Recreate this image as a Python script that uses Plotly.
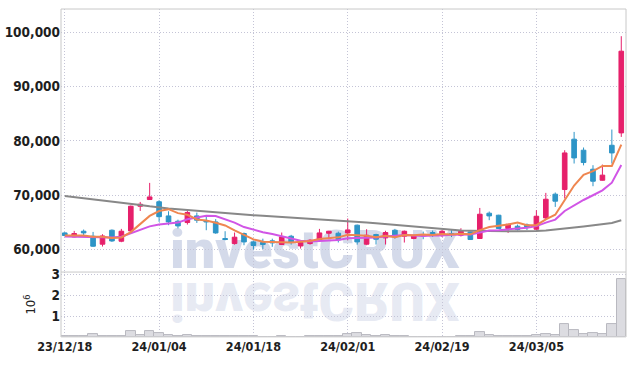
import plotly.graph_objects as go

dates = [
    "23/12/18", "23/12/19", "23/12/20", "23/12/21", "23/12/22", "23/12/26", "23/12/27", "23/12/28",
    "24/01/02", "24/01/03", "24/01/04", "24/01/05", "24/01/08", "24/01/09", "24/01/10", "24/01/11",
    "24/01/12", "24/01/15", "24/01/16", "24/01/17", "24/01/18", "24/01/19", "24/01/22", "24/01/23",
    "24/01/24", "24/01/25", "24/01/26", "24/01/29", "24/01/30", "24/01/31", "24/02/01", "24/02/02",
    "24/02/05", "24/02/06", "24/02/07", "24/02/08", "24/02/13", "24/02/14", "24/02/15", "24/02/16",
    "24/02/19", "24/02/20", "24/02/21", "24/02/22", "24/02/23", "24/02/26", "24/02/27", "24/02/28",
    "24/02/29", "24/03/04", "24/03/05", "24/03/06", "24/03/07", "24/03/08", "24/03/11", "24/03/12",
    "24/03/13", "24/03/14", "24/03/15", "24/03/18",
]

opens = [63060, 62320, 63370, 62450, 60980, 63555, 61530, 63430, 67975, 69210,
         68800, 66190, 65210, 64970, 66190, 65340, 65080, 62030, 61100, 62950,
         61400, 61290, 61600, 60920, 62450, 60660, 61100, 61840, 63000, 63000,
         63060, 64480, 60980, 62760, 62140, 63555, 62450, 62030, 62760, 63130,
         62760, 62950, 62630, 63240, 62030, 66690, 66320, 63870, 64290, 64540,
         63740, 65820, 70190, 71050, 80320, 78290, 74790, 72760, 79200, 81480]
highs = [63200, 63430, 63680, 63240, 62820, 63700, 63800, 68100, 68770, 72270,
         69080, 67050, 65500, 67360, 66800, 66320, 65600, 63370, 63130, 63130,
         61600, 62000, 62000, 63130, 62700, 61400, 61900, 63800, 63450, 63300,
         65710, 64600, 63740, 62900, 63450, 63800, 63500, 62700, 63300, 63500,
         63600, 63700, 63920, 63300, 67660, 67000, 66400, 64700, 64600, 64800,
         67240, 70430, 70500, 78290, 81660, 78790, 75530, 75650, 82100, 99290]
lows = [62450, 62250, 62600, 60480, 60550, 61400, 61350, 63300, 67100, 69150,
        65100, 64480, 63900, 64600, 64900, 63555, 62900, 61700, 60900, 60790,
        60000, 60100, 60500, 60830, 60900, 60180, 60900, 61700, 61900, 61300,
        61710, 60900, 60800, 60920, 60920, 62000, 61290, 61900, 61900, 62300,
        62300, 62300, 62400, 61840, 62000, 65400, 63870, 63060, 63500, 63600,
        63500, 65600, 67850, 69400, 75840, 75500, 71660, 72700, 75840, 80740]
closes = [62580, 62950, 63060, 60610, 62500, 61580, 63370, 67975, 68340, 69690,
          66050, 65080, 64350, 66815, 65400, 65080, 63060, 61840, 62270, 61400,
          60740, 60920, 61220, 62320, 61290, 61290, 61710, 63060, 63370, 61770,
          63610, 61400, 62630, 61900, 63130, 62320, 63370, 62500, 62500, 62630,
          63370, 62760, 63370, 61840, 66500, 66190, 63870, 64660, 63680, 64050,
          66130, 69265, 68900, 77790, 76870, 76020, 72580, 73700, 77790, 96530]
volumes = [40000, 30000, 25000, 130000, 60000, 40000, 60000, 270000, 90000, 270000,
           180000, 70000, 40000, 100000, 40000, 30000, 60000, 60000, 40000, 30000,
           30000, 20000, 20000, 30000, 20000, 20000, 30000, 40000, 30000, 40000,
           130000, 180000, 100000, 40000, 80000, 30000, 60000, 20000, 20000, 20000,
           20000, 20000, 30000, 50000, 260000, 80000, 40000, 30000, 30000, 40000,
           80000, 160000, 110000, 600000, 350000, 130000, 210000, 130000, 600000, 2810000]

ma5 = [62600, 62550, 62600, 62350, 62340, 62140, 62224, 63207, 64753, 66191,
       67085, 67427, 66702, 66397, 65539, 65345, 64941, 64439, 63530, 62730,
       61862, 61434, 61310, 61320, 61298, 61408, 61566, 61934, 62144, 62240,
       62704, 62642, 62556, 62262, 62534, 62276, 62670, 62644, 62764, 62664,
       62874, 62752, 62926, 62794, 63568, 64132, 64354, 64612, 64980, 64490,
       64478, 65557, 66405, 69227, 71791, 73769, 74432, 75392, 75392, 79324]
ma10 = [62400, 62380, 62350, 62250, 62250, 62200, 62350, 63000, 63700, 64266,
        64613, 64826, 64955, 65575, 65865, 66215, 66184, 65571, 64964, 64135,
        63614, 63198, 62875, 62425, 62014, 61635, 61500, 61622, 61732, 61769,
        62056, 62104, 62245, 62203, 62387, 62490, 62656, 62600, 62513, 62599,
        62575, 62711, 62785, 62779, 63116, 63503, 63553, 63769, 63887, 64029,
        64305, 64956, 65509, 67104, 68141, 69124, 69995, 70899, 72310, 75558]
ma60 = [69850, 69650, 69450, 69300, 69100, 68900, 68700, 68500, 68200, 67950,
        67700, 67550, 67400, 67250, 67100, 66950, 66800, 66700, 66600, 66450,
        66300, 66200, 66100, 66000, 65900, 65800, 65700, 65600, 65500, 65400,
        65300, 65150, 65000, 64850, 64700, 64550, 64400, 64250, 64050, 63900,
        63750, 63600, 63500, 63450, 63400, 63350, 63350, 63350, 63350, 63350,
        63400, 63500, 63650, 63850, 64050, 64250, 64450, 64650, 64900, 65400]

tick_labels = ["23/12/18", "24/01/04", "24/01/18", "24/02/01", "24/02/19", "24/03/05"]
price_ticks = [60000, 70000, 80000, 90000, 100000]
vol_ticks = [1000000, 2000000, 3000000]
vol_tick_text = ["1", "2", "3"]

PINK = "#E6206B"
BLUE = "#2E95C7"
GRID = "#c4c4d6"
GDASH = "1px,2px"
FONT = "DejaVu Sans Condensed, Roboto Condensed, Liberation Sans Narrow, Roboto, sans-serif"
TICKFONT = dict(family=FONT, size=13.5, color="#1e1e1e", weight="bold")
XTICKFONT = dict(family=FONT, size=12.5, color="#1e1e1e", weight="bold")

fig = go.Figure()
fig.add_trace(go.Candlestick(
    x=dates, open=opens, high=highs, low=lows, close=closes,
    xaxis="x", yaxis="y", showlegend=False, whiskerwidth=0,
    increasing=dict(line=dict(color=PINK, width=1), fillcolor=PINK),
    decreasing=dict(line=dict(color=BLUE, width=1), fillcolor=BLUE),
    hoverinfo="skip",
))
fig.add_trace(go.Scatter(x=dates, y=ma60, mode="lines", line=dict(color="#888888", width=2),
                         xaxis="x", yaxis="y", showlegend=False, hoverinfo="skip"))
fig.add_trace(go.Scatter(x=dates, y=ma10, mode="lines", line=dict(color="#D155E6", width=2),
                         xaxis="x", yaxis="y", showlegend=False, hoverinfo="skip"))
fig.add_trace(go.Scatter(x=dates, y=ma5, mode="lines", line=dict(color="#EF8650", width=2),
                         xaxis="x", yaxis="y", showlegend=False, hoverinfo="skip"))
fig.add_trace(go.Bar(x=dates, y=volumes, xaxis="x2", yaxis="y2", showlegend=False,
                     marker=dict(color="#dcdce1", line=dict(color="#b9b9c0", width=1)),
                     hoverinfo="skip"))

VOL_TOP = 0.198
axis_common = dict(type="category", categoryorder="array", categoryarray=dates,
                   range=[-0.4, 59.5], showgrid=True, gridcolor=GRID, griddash=GDASH,
                   gridwidth=1, tickvals=tick_labels, zeroline=False, showline=False,
                   ticks="")
fig.update_layout(
    width=634, height=366,
    margin=dict(l=61, r=8, t=9, b=29),
    paper_bgcolor="white", plot_bgcolor="white",
    bargap=0,
    xaxis=dict(axis_common, domain=[0, 1], anchor="y", showticklabels=False,
               rangeslider=dict(visible=False)),
    xaxis2=dict(axis_common, domain=[0, 1], anchor="y2", matches="x",
                ticktext=tick_labels, tickfont=XTICKFONT),
    yaxis=dict(domain=[VOL_TOP, 1], range=[55850, 104300], tickvals=price_ticks,
               tickformat=",", showgrid=True, gridcolor=GRID, griddash=GDASH,
               zeroline=False, ticks="", tickfont=TICKFONT, automargin=False),
    yaxis2=dict(domain=[0, VOL_TOP], range=[0, 3125000], tickvals=vol_ticks,
                ticktext=vol_tick_text, showgrid=True, gridcolor=GRID, griddash=GDASH,
                zeroline=False, ticks="", tickfont=TICKFONT, automargin=False,
                title=dict(text="10<sup>6</sup>", standoff=12,
                           font=dict(family=FONT, size=13, color="#222222"))),
    shapes=[
        dict(type="rect", xref="paper", yref="paper", x0=0, x1=1, y0=VOL_TOP, y1=1,
             line=dict(color="#c8c8c8", width=1)),
        dict(type="line", xref="paper", yref="paper", x0=0, x1=0, y0=0, y1=VOL_TOP,
             line=dict(color="#c8c8c8", width=1)),
        dict(type="line", xref="paper", yref="paper", x0=1, x1=1, y0=0, y1=VOL_TOP,
             line=dict(color="#c8c8c8", width=1)),
        dict(type="line", xref="paper", yref="paper", x0=0, x1=1, y0=0, y1=0,
             line=dict(color="#d8d8d8", width=1)),
    ],
    annotations=[
        dict(text="investCRUX", xref="paper", yref="paper", x=0.45, y=0.165,
             xanchor="center", yanchor="bottom", showarrow=False,
             font=dict(family="Roboto, sans-serif", size=54, weight=900,
                       color="rgba(160,172,208,0.45)")),
        dict(text="investCRUX", xref="paper", yref="paper", x=0.45, y=0.21,
             xanchor="center", yanchor="top", showarrow=False,
             font=dict(family="Roboto, sans-serif", size=54, weight=900,
                       color="rgba(160,172,208,0.25)")),
    ],
)

post = """
document.body.style.margin = '0';
document.body.style.padding = '0';
var gd = document.getElementById('{plot_id}');
var cart = gd.querySelector('.cartesianlayer');
var anns = gd.querySelectorAll('g.annotation');
for (var k = 0; k < anns.length; k++) {
  var a = anns[k];
  if (k === 1) {
    var t = a.querySelector('text');
    t.style.transformBox = 'fill-box';
    t.style.transformOrigin = '50% 50%';
    t.style.transform = 'scaleY(-1)';
  }
  cart.parentNode.insertBefore(a, cart);
}
"""

fig.write_html("out.html", post_script=post, config={"displayModeBar": False})
